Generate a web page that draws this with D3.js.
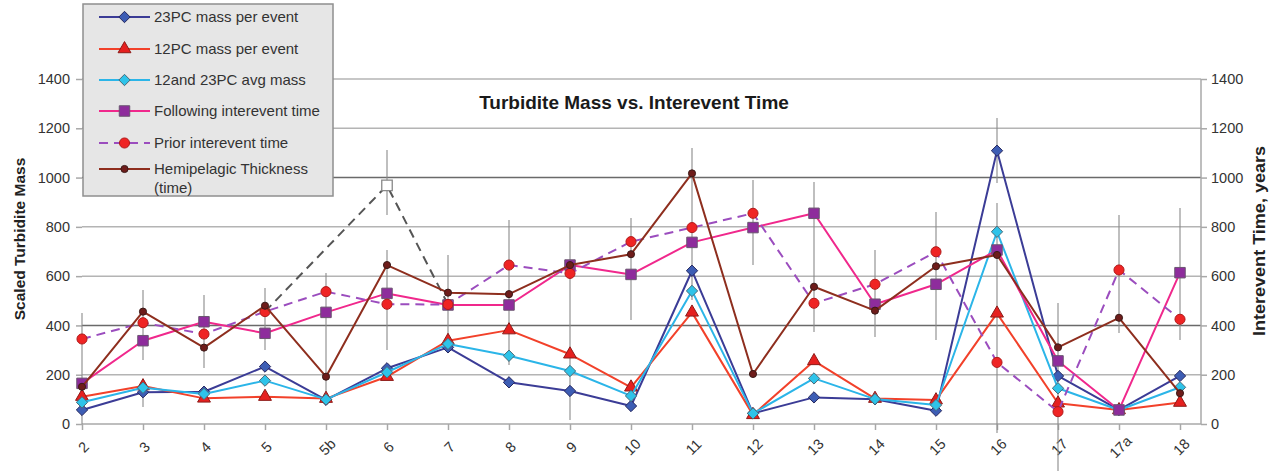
<!DOCTYPE html>
<html>
<head>
<meta charset="utf-8">
<script src="https://cdn.jsdelivr.net/npm/d3@7"></script>
<style>
  html, body { margin: 0; padding: 0; background: #fff; }
  svg { display: block; font-family: "Liberation Sans", Arial, sans-serif; }
</style>
</head>
<body>
<svg id="chart" width="1276" height="471"></svg>
<script>
// Turbidite events along the core sequence
const categories = ["2","3","4","5","5b","6","7","8","9","10","11","12","13","14","15","16","17","17a","18"];

// Scaled turbidite mass (left axis)
const mass23PC = [57,129,131,233,98,226,311,169,134,73,622,43,108,100,54,1109,195,57,195];
const mass12PC = [111,154,104,111,103,192,338,381,283,149,453,37,256,103,97,449,84,57,87];
const avgMass  = [88,147,122,176,100,210,325,277,215,114,540,43,185,101,77,780,145,57,149];

// Interevent times, years (right axis)
const followingTime = [165,338,415,368,453,530,483,483,645,607,737,797,855,486,567,706,256,57,614];
const priorTime     = [345,411,365,456,537,486,485,645,611,740,797,855,490,567,699,250,50,625,425];
const hemiThickness = [151,456,310,480,192,645,533,527,645,689,1017,203,557,460,640,686,311,431,125];

// Alternative prior interval around event 6
const altCategories = ["5","6","7"];
const altPrior      = [456,968,485];

// Uncertainty ranges: [event, low, high]
const errorBars = [
  ["2",0,450],["3",260,544],["3",69,166],["4",227,523],["5",300,552],["5b",110,613],
  ["6",848,1112],["6",300,706],["7",341,686],["8",239,828],["9",16,799],["10",422,836],
  ["11",503,1120],["12",645,990],["13",373,982],["14",353,706],["15",341,860],
  ["16",978,1242],["16",-37,897],["17",-191,491],["17a",369,848],["18",341,877]
];

const yTicks = [0,200,400,600,800,1000,1200,1400];
const darkGrid = [400,1000];

const svg = d3.select("#chart");
const plotLeft = 82, plotRight = 1201, plotTop = 79, plotBottom = 424;
const fontFam = "Liberation Sans, Arial, sans-serif";

const x = d3.scalePoint().domain(categories).range([82, 1180]);
const y = d3.scaleLinear().domain([0, 1400]).range([plotBottom, plotTop]);
const yRight = d3.scaleLinear().domain([0, 1400]).range([plotBottom, plotTop]);

// Horizontal gridlines
svg.append("g").selectAll("line").data(yTicks.filter(d => d > 0)).join("line")
  .attr("x1", plotLeft).attr("x2", plotRight)
  .attr("y1", d => y(d)).attr("y2", d => y(d))
  .attr("stroke", d => darkGrid.includes(d) ? "#6a6a6a" : "#b4b4b4")
  .attr("stroke-width", 1.5);

// Left axis (labels and ticks only)
const gLeft = svg.append("g").attr("transform", `translate(${plotLeft},0)`)
  .call(d3.axisLeft(y).tickValues(yTicks).tickFormat(d3.format("d")).tickSize(6).tickPadding(6));
gLeft.select(".domain").remove();
gLeft.selectAll(".tick line").attr("stroke", "#a8a8a8").attr("stroke-width", 1.5);
gLeft.selectAll(".tick text").attr("font-size", 14.5).attr("fill", "#333").attr("font-family", fontFam);

// Right axis
const gRight = svg.append("g").attr("transform", `translate(${plotRight},0)`)
  .call(d3.axisRight(yRight).tickValues(yTicks).tickFormat(d3.format("d")).tickSize(6).tickPadding(4));
gRight.select(".domain").attr("stroke", "#a8a8a8").attr("stroke-width", 1.5)
  .attr("d", `M0,${plotTop}V${plotBottom}`);
gRight.selectAll(".tick line").attr("stroke", "#a8a8a8").attr("stroke-width", 1.5);
gRight.selectAll(".tick text").attr("font-size", 14.5).attr("fill", "#333").attr("font-family", fontFam);

// Bottom axis
const gBottom = svg.append("g").attr("transform", `translate(0,${plotBottom})`)
  .call(d3.axisBottom(x).tickSize(6).tickSizeOuter(0));
gBottom.select(".domain").attr("stroke", "#a8a8a8").attr("stroke-width", 1.5)
  .attr("d", `M${plotLeft},0H${plotRight}`);
gBottom.selectAll(".tick line").attr("stroke", "#a8a8a8").attr("stroke-width", 1.5);
gBottom.selectAll(".tick text")
  .attr("font-size", 14.5).attr("fill", "#333").attr("font-family", fontFam)
  .attr("text-anchor", "middle").attr("dy", null).attr("y", 0)
  .attr("dominant-baseline", "central")
  .attr("transform", "translate(1,23) rotate(-45)");

// Error bars
svg.append("g").selectAll("line").data(errorBars).join("line")
  .attr("x1", d => x(d[0])).attr("x2", d => x(d[0]))
  .attr("y1", d => Math.min(471, y(d[1]))).attr("y2", d => y(d[2]))
  .attr("stroke", "#8c8c8c").attr("stroke-width", 1.3).attr("opacity", 0.85);

// Marker shapes (diamond drawn as a square turned 45 degrees)
const turnedSquare = {
  draw(ctx, size) {
    const r = Math.sqrt(size) / Math.SQRT2;
    ctx.moveTo(0, -r); ctx.lineTo(r, 0); ctx.lineTo(0, r); ctx.lineTo(-r, 0); ctx.closePath();
  }
};
const sym = {
  diamond: d3.symbol().type(turnedSquare).size(64),
  triangle: d3.symbol().type(d3.symbolTriangle).size(72),
  square: d3.symbol().type(d3.symbolSquare).size(110),
  circle: d3.symbol().type(d3.symbolCircle).size(80),
  dot: d3.symbol().type(d3.symbolCircle).size(40)
};

const series = [
  { name: "23PC mass per event", values: mass23PC, line: "#3b3c96", dash: null, shape: "diamond", fill: "#3d5db4", stroke: "#27285e", scale: y },
  { name: "12PC mass per event", values: mass12PC, line: "#f2412a", dash: null, shape: "triangle", fill: "#e5201f", stroke: "#8d1b18", scale: y },
  { name: "12and 23PC avg mass", values: avgMass, line: "#2bb5e8", dash: null, shape: "diamond", fill: "#2ec3e9", stroke: "#4a6a78", scale: y },
  { name: "Following interevent time", values: followingTime, line: "#f0288c", dash: null, shape: "square", fill: "#8e2c9c", stroke: "#6a5570", scale: yRight },
  { name: "Prior interevent time", values: priorTime, line: "#9b4dbe", dash: "9,6", shape: "circle", fill: "#ef2424", stroke: "#b01a1a", scale: yRight },
  { name: "Hemipelagic Thickness", values: hemiThickness, line: "#8e2e1e", dash: null, shape: "dot", fill: "#6e1c1a", stroke: "#3a1a18", scale: yRight }
];

// Dashed alternative prior interval (hollow marker at event 6)
svg.append("path")
  .datum(altCategories.map((c, i) => [c, altPrior[i]]))
  .attr("fill", "none").attr("stroke", "#555").attr("stroke-width", 2)
  .attr("stroke-dasharray", "9,6")
  .attr("d", d3.line().x(d => x(d[0])).y(d => yRight(d[1])));
svg.append("path")
  .attr("d", sym.square())
  .attr("transform", `translate(${x("6")},${yRight(altPrior[1])})`)
  .attr("fill", "#fff").attr("stroke", "#888").attr("stroke-width", 1.3);

const lineGen = s => d3.line().x((d, i) => x(categories[i])).y(d => s.scale(d));

series.forEach(s => {
  const g = svg.append("g");
  g.append("path").datum(s.values)
    .attr("fill", "none").attr("stroke", s.line).attr("stroke-width", 2)
    .attr("stroke-dasharray", s.dash)
    .attr("stroke-linejoin", "round")
    .attr("d", lineGen(s));
  g.selectAll("path.m").data(s.values).join("path").attr("class", "m")
    .attr("d", sym[s.shape]())
    .attr("transform", (d, i) => `translate(${x(categories[i])},${s.scale(d)})`)
    .attr("fill", s.fill).attr("stroke", s.stroke).attr("stroke-width", 1);
});

// Title
svg.append("text")
  .attr("x", 634).attr("y", 109).attr("text-anchor", "middle")
  .attr("font-size", 19).attr("font-weight", "bold").attr("fill", "#1a1a1a")
  .text("Turbidite Mass vs. Interevent Time");

// Axis titles
svg.append("text")
  .attr("transform", "translate(25,239) rotate(-90)")
  .attr("text-anchor", "middle").attr("font-size", 15.5).attr("font-weight", "bold").attr("fill", "#222")
  .text("Scaled Turbidite Mass");
svg.append("text")
  .attr("transform", "translate(1265,241) rotate(-90)")
  .attr("text-anchor", "middle").attr("font-size", 16.5).attr("font-weight", "bold").attr("fill", "#222")
  .attr("textLength", 190).attr("lengthAdjust", "spacingAndGlyphs")
  .text("Interevent Time, years");

// Legend
const legend = svg.append("g");
legend.append("rect")
  .attr("x", 83).attr("y", 4).attr("width", 250).attr("height", 192)
  .attr("fill", "#e6e6e6").attr("stroke", "#8f8f8f").attr("stroke-width", 1.5);
const legendY = [17, 49, 80, 111, 143, 169];
series.forEach((s, i) => {
  const ly = legendY[i];
  legend.append("line").attr("x1", 99).attr("x2", 150).attr("y1", ly).attr("y2", ly)
    .attr("stroke", s.line).attr("stroke-width", 2).attr("stroke-dasharray", s.dash);
  legend.append("path").attr("d", sym[s.shape]())
    .attr("transform", `translate(124.5,${ly})`)
    .attr("fill", s.fill).attr("stroke", s.stroke).attr("stroke-width", 1);
  legend.append("text").attr("x", 154).attr("y", ly).attr("dy", "0.35em")
    .attr("font-size", 15).attr("fill", "#333").text(s.name);
});
legend.append("text").attr("x", 154).attr("y", 188).attr("dy", "0.35em")
  .attr("font-size", 15).attr("fill", "#333").text("(time)");
</script>
</body>
</html>
